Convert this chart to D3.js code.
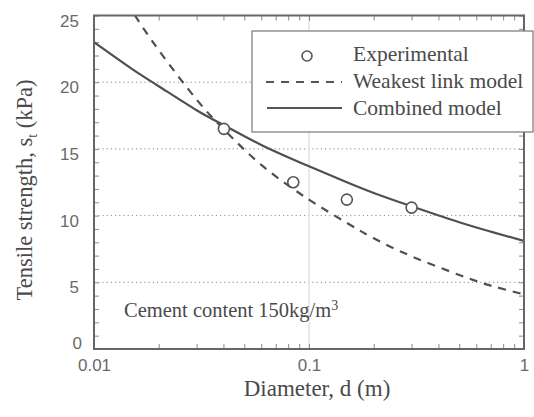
<!DOCTYPE html>
<html>
<head>
<meta charset="utf-8">
<script src="https://cdn.jsdelivr.net/npm/d3@7"></script>
<style>
  html, body { margin: 0; padding: 0; background: #fff; }
  svg { display: block; }
</style>
</head>
<body>
<svg id="chart" width="534" height="417"></svg>
<script>
// Measured tensile strength against specimen diameter
const expDiameter = [0.0402, 0.0845, 0.150, 0.300];
const expStrength = [16.5, 12.5, 11.2, 10.6];

// Weakest link model curve
const weakDiameter = [0.0155, 0.02, 0.03, 0.04, 0.06, 0.1, 0.15, 0.2, 0.3, 0.5, 0.7, 1];
const weakStrength = [25.0, 22.4, 18.7, 16.5, 13.8, 11.2, 9.45, 8.3, 6.95, 5.55, 4.75, 4.1];

// Combined model curve
const combDiameter = [0.01, 0.015, 0.02, 0.03, 0.04, 0.06, 0.1, 0.15, 0.2, 0.3, 0.5, 0.7, 1];
const combStrength = [23.0, 21.0, 19.7, 17.9, 16.8, 15.3, 13.7, 12.5, 11.7, 10.7, 9.5, 8.8, 8.1];

const xTicks = [0.01, 0.1, 1];
const xTickLabels = ["0.01", "0.1", "1"];
const yTicks = [0, 5, 10, 15, 20, 25];
const legendLabels = ["Experimental", "Weakest link model", "Combined model"];

const serif = "'Liberation Serif', 'Times New Roman', serif";
const sans = "'Liberation Sans', Arial, sans-serif";
const ink = "#4a4a4a";

const svg = d3.select("#chart");
const plotL = 94, plotR = 524, plotT = 15.5, plotB = 349;

const x = d3.scaleLog().domain([0.01, 1]).range([plotL, plotR]);
const y = d3.scaleLinear().domain([0, 25]).range([plotB, plotT]);

// Horizontal dotted gridlines
svg.append("g")
  .selectAll("line")
  .data([5, 10, 15, 20])
  .join("line")
  .attr("x1", plotL).attr("x2", plotR)
  .attr("y1", d => y(d)).attr("y2", d => y(d))
  .attr("stroke", "#8a8a8a")
  .attr("stroke-width", 1)
  .attr("stroke-dasharray", "1.2,3");

// Faint vertical line at d = 0.1
svg.append("line")
  .attr("x1", x(0.1)).attr("x2", x(0.1))
  .attr("y1", plotT).attr("y2", plotB)
  .attr("stroke", "#e2e2e2")
  .attr("stroke-width", 1.5);

// Minor ticks, drawn inward on all four sides
const yMinor = d3.range(0, 26, 1);
const xMinor = [];
[0.01, 0.1].forEach(b => { for (let k = 1; k <= 10; k++) xMinor.push(b * k); });

function styleTicks(g) {
  g.select(".domain").remove();
  g.selectAll("text").remove();
  g.selectAll("line").attr("stroke", "#8a8a8a").attr("stroke-width", 1);
}
svg.append("g").attr("transform", `translate(${plotL},0)`)
  .call(d3.axisLeft(y).tickValues(yMinor).tickSize(-5)).call(styleTicks);
svg.append("g").attr("transform", `translate(${plotR},0)`)
  .call(d3.axisRight(y).tickValues(yMinor).tickSize(-5)).call(styleTicks);
svg.append("g").attr("transform", `translate(0,${plotB})`)
  .call(d3.axisBottom(x).tickValues(xMinor).tickSize(-5)).call(styleTicks);
svg.append("g").attr("transform", `translate(0,${plotT})`)
  .call(d3.axisTop(x).tickValues(xMinor).tickSize(-5)).call(styleTicks);

// Curves
const line = d3.line()
  .x(d => x(d[0]))
  .y(d => y(d[1]))
  .curve(d3.curveNatural);

svg.append("defs").append("clipPath").attr("id", "plotClip")
  .append("rect").attr("x", plotL).attr("y", plotT)
  .attr("width", plotR - plotL).attr("height", plotB - plotT);

const curves = svg.append("g").attr("clip-path", "url(#plotClip)");
curves.append("path")
  .datum(d3.zip(weakDiameter, weakStrength))
  .attr("d", line)
  .attr("fill", "none")
  .attr("stroke", "#505050")
  .attr("stroke-width", 2.2)
  .attr("stroke-dasharray", "8,7");
curves.append("path")
  .datum(d3.zip(combDiameter, combStrength))
  .attr("d", line)
  .attr("fill", "none")
  .attr("stroke", "#505050")
  .attr("stroke-width", 2.2);

// Experimental points
svg.append("g")
  .selectAll("circle")
  .data(d3.zip(expDiameter, expStrength))
  .join("circle")
  .attr("cx", d => x(d[0]))
  .attr("cy", d => y(d[1]))
  .attr("r", 5.5)
  .attr("fill", "#fff")
  .attr("stroke", "#555")
  .attr("stroke-width", 1.6);

// Plot frame
svg.append("rect")
  .attr("x", plotL).attr("y", plotT)
  .attr("width", plotR - plotL).attr("height", plotB - plotT)
  .attr("fill", "none")
  .attr("stroke", "#666")
  .attr("stroke-width", 2);

// Tick labels
const xAxis = svg.append("g").attr("transform", `translate(0,${plotB})`)
  .call(d3.axisBottom(x).tickValues(xTicks).tickFormat((d, i) => xTickLabels[i]).tickSize(0).tickPadding(0));
xAxis.select(".domain").remove();
xAxis.selectAll("text")
  .attr("y", 22).attr("dy", 0)
  .attr("font-family", sans).attr("font-size", 17).attr("fill", "#6a6a6a");

const yAxis = svg.append("g").attr("transform", `translate(79,0)`)
  .call(d3.axisLeft(y).tickValues(yTicks).tickSize(0).tickPadding(0));
yAxis.select(".domain").remove();
yAxis.selectAll("text")
  .attr("x", d => d === 0 ? 3 : 0)
  .attr("dy", d => d === 0 ? "-0.05em" : "0.62em")
  .attr("font-family", sans).attr("font-size", 17).attr("fill", "#6a6a6a");

// Axis titles
svg.append("text")
  .attr("x", 317).attr("y", 396)
  .attr("text-anchor", "middle")
  .attr("font-family", serif).attr("font-size", 23).attr("fill", ink)
  .text("Diameter, d (m)");

const yTitle = svg.append("text")
  .attr("transform", "translate(32,190) rotate(-90)")
  .attr("text-anchor", "middle")
  .attr("font-family", serif).attr("font-size", 22.5).attr("fill", ink);
yTitle.append("tspan").text("Tensile strength, s");
yTitle.append("tspan").attr("font-size", 14).attr("dy", 5).text("t");
yTitle.append("tspan").attr("dy", -5).text(" (kPa)");

// Annotation
const note = svg.append("text")
  .attr("x", 124).attr("y", 317)
  .attr("font-family", serif).attr("font-size", 20.5).attr("fill", ink);
note.append("tspan").text("Cement content 150kg/m");
note.append("tspan").attr("font-size", 14).attr("dy", -7).text("3");

// Legend
const legend = svg.append("g");
legend.append("rect")
  .attr("x", 252).attr("y", 31)
  .attr("width", 281).attr("height", 101)
  .attr("fill", "#fff")
  .attr("stroke", "#777")
  .attr("stroke-width", 1.2);
const rowY = [61, 88, 115];
legend.append("circle")
  .attr("cx", 307).attr("cy", rowY[0] - 5)
  .attr("r", 5).attr("fill", "#fff")
  .attr("stroke", "#555").attr("stroke-width", 1.6);
legend.append("line")
  .attr("x1", 266).attr("x2", 342)
  .attr("y1", rowY[1] - 6).attr("y2", rowY[1] - 6)
  .attr("stroke", "#555").attr("stroke-width", 2)
  .attr("stroke-dasharray", "8,7");
legend.append("line")
  .attr("x1", 267).attr("x2", 342)
  .attr("y1", rowY[2] - 7).attr("y2", rowY[2] - 7)
  .attr("stroke", "#555").attr("stroke-width", 1.8);
legend.selectAll("text.lbl")
  .data(legendLabels)
  .join("text")
  .attr("class", "lbl")
  .attr("x", 353)
  .attr("y", (d, i) => rowY[i])
  .attr("font-family", serif).attr("font-size", 21.5).attr("fill", ink)
  .text(d => d);
</script>
</body>
</html>
